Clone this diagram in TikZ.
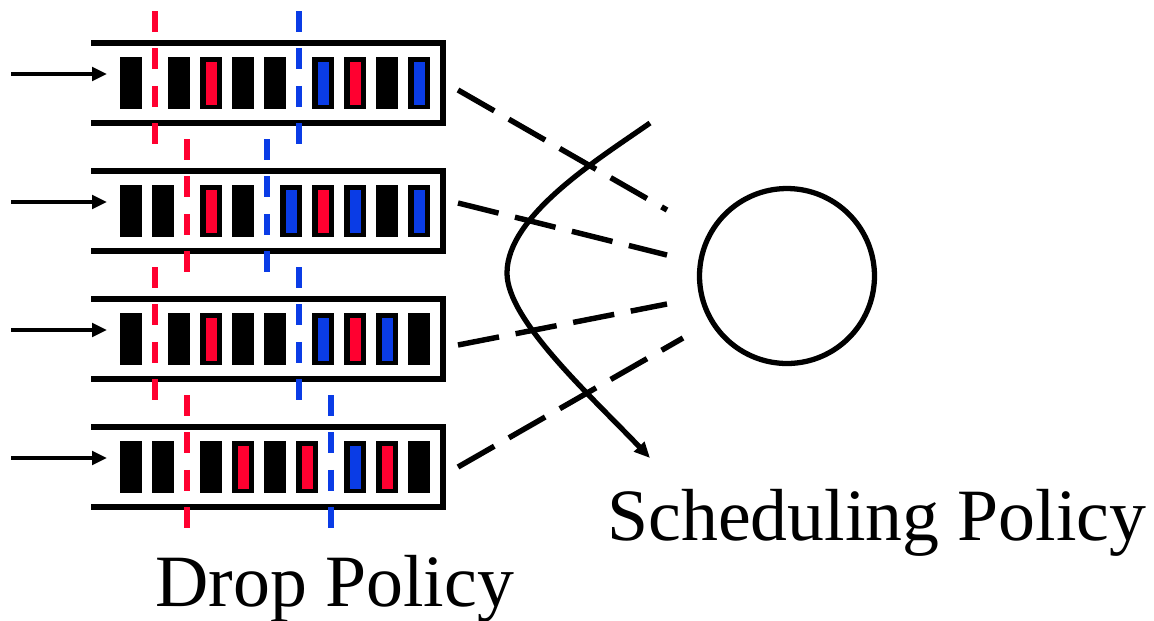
\documentclass[tikz,border=0pt]{standalone}
\usepackage{fontspec}
\setmainfont{Liberation Serif}
\usetikzlibrary{arrows.meta}
\definecolor{pktred}{RGB}{255,0,48}
\definecolor{pktblue}{RGB}{10,60,230}

\begin{document}
\begin{tikzpicture}[x=0.02cm,y=-0.02cm,
  queue/.style={line width=3pt,line join=miter},
  feed/.style={line width=2.8pt,-{Triangle[length=8.5pt,width=7.6pt]}},
  cut/.style={line width=3.3pt,dash pattern=on 11.9pt off 9.4pt},
  link/.style={line width=3.1pt,dash pattern=on 23.8pt off 9.6pt},
  label/.style={inner sep=0pt,anchor=base west,font=\fontsize{42}{50}\selectfont}]
  \useasboundingbox (0,0) rectangle (1154,620);
  % Queues with their packets
  \foreach \i/\t/\rx/\bx/\pkts in {
      1/43/155/299/{120/black,168/black,200/pktred,232/black,264/black,312/pktblue,344/pktred,376/black,408/pktblue},
      2/171/187/267/{120/black,152/black,200/pktred,232/black,280/pktblue,312/pktred,344/pktblue,376/black,408/pktblue},
      3/299/155/299/{120/black,168/black,200/pktred,232/black,264/black,312/pktblue,344/pktred,376/pktblue,408/black},
      4/427/187/331/{120/black,152/black,200/black,232/pktred,264/black,296/pktred,344/pktblue,376/pktred,408/black}}{
    \draw[queue] (91,\t) -- (443,\t) -- (443,\t+80) -- (91,\t+80);
    \foreach \p/\c in \pkts{
      \fill[black] (\p,\t+14) rectangle ++(22,52);
      \fill[\c] (\p+5.5,\t+18.5) rectangle ++(11,43);}
    \coordinate (src\i) at (11,\t+31);
    \coordinate (q\i) at (107,\t+31);
    \draw[feed] (src\i) -- (q\i);
    % Drop thresholds
    \draw[cut,pktred] (\rx,\t-32) -- (\rx,\t+101);
    \draw[cut,pktblue] (\bx,\t-32) -- (\bx,\t+101);}
  % Scheduler
  \node[circle,draw,line width=3pt,minimum size=3.5cm,inner sep=0pt] (sched) at (787,276) {};
  \coordinate (out1) at (458,90);  \coordinate (end1) at (667,210);
  \coordinate (out2) at (458,203); \coordinate (end2) at (667,255);
  \coordinate (out3) at (458,345); \coordinate (end3) at (667,304);
  \coordinate (out4) at (458,467); \coordinate (end4) at (683,338);
  \foreach \i in {1,...,4}
    \draw[link] (out\i) -- (end\i);
  % Service order sweep
  \coordinate (sw0) at (650,123);
  \coordinate (sw1) at (507,273);
  \coordinate (sw2) at (650,458);
  \draw[line width=3pt,-{Triangle[length=9pt,width=7.8pt]}]
    (sw0) .. controls (600,158) and (507,215) .. (sw1)
          .. controls (507,320) and (590,395) .. (sw2);
  % Labels
  \node[label] (drop) at (155,606) {Drop Policy};
  \node[label] (sched label) at (607,540) {Scheduling Policy};
\end{tikzpicture}
\end{document}
